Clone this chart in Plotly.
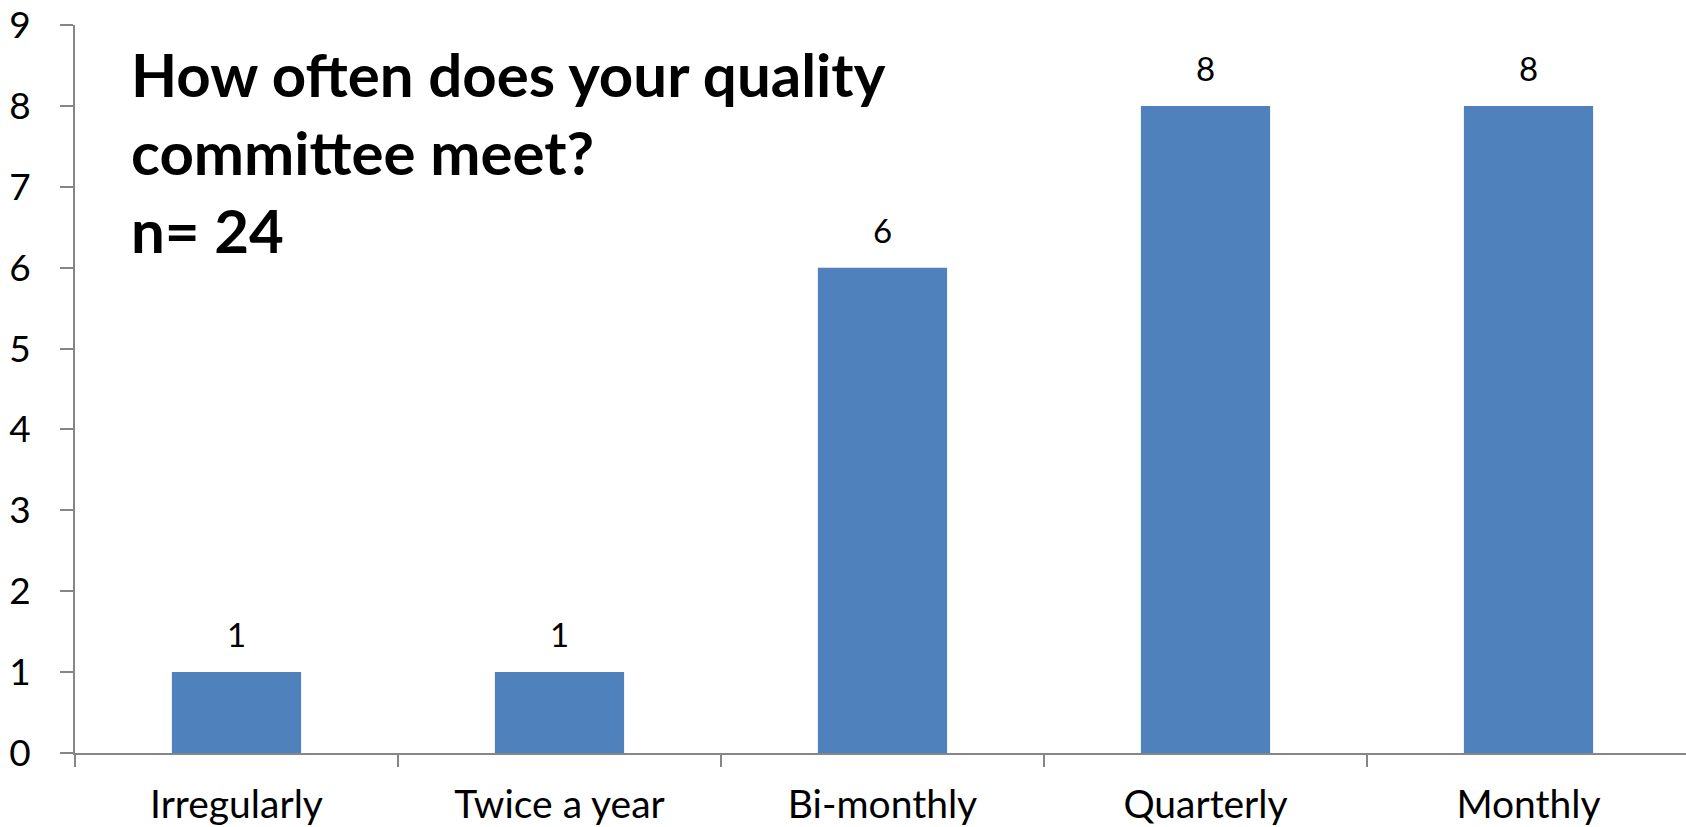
import plotly.graph_objects as go

categories = ["Irregularly", "Twice a year", "Bi-monthly", "Quarterly", "Monthly"]
counts = [1, 1, 6, 8, 8]
y_ticks = [0, 1, 2, 3, 4, 5, 6, 7, 8, 9]
title_lines = ["How often does your quality", "committee meet?", "n= 24"]

FONT = "Lato"
AXIS_COLOR = "#868686"
BAR_COLOR = "#4F81BD"

W, H = 1686, 827
L, R, T, B = 75, 0, 25, 74
pw, ph = W - L - R, H - T - B

fig = go.Figure()
fig.add_trace(go.Bar(
    x=categories,
    y=counts,
    width=0.4,
    marker=dict(color=BAR_COLOR, line=dict(width=0)),
    hoverinfo="skip",
))

annotations = []
for c, v in zip(categories, counts):
    annotations.append(dict(
        x=c, y=v, xref="x", yref="y", text=str(v), showarrow=False,
        yanchor="bottom", yshift=16,
        font=dict(family=FONT, size=33, color="#000000"),
    ))
annotations.append(dict(
    x=(129 - L) / pw, y=(H - B - 36) / ph, xref="paper", yref="paper",
    text="<br>".join(title_lines), showarrow=False, align="left",
    xanchor="left", yanchor="top",
    font=dict(family=FONT, size=60, color="#000000", weight="bold"),
))

fig.update_layout(
    width=W, height=H,
    margin=dict(l=L, r=R, t=T, b=B, pad=0),
    paper_bgcolor="white", plot_bgcolor="white",
    showlegend=False,
    annotations=annotations,
    bargap=0.6,
)
fig.update_xaxes(
    type="category",
    range=[-0.5, -0.5 + pw / 323.0],
    showline=True, linecolor=AXIS_COLOR, linewidth=2,
    ticks="outside", tickson="boundaries", ticklen=12, tickwidth=1.5, tickcolor=AXIS_COLOR,
    showgrid=False, zeroline=False,
    tickfont=dict(family=FONT, size=39, color="#000000"),
    ticklabelstandoff=16,
)
fig.update_yaxes(
    range=[0, 9],
    tickvals=y_ticks,
    ticktext=[str(t) for t in y_ticks],
    showline=True, linecolor=AXIS_COLOR, linewidth=2,
    ticks="outside", ticklen=13, tickwidth=1.5, tickcolor=AXIS_COLOR,
    showgrid=False, zeroline=False,
    tickfont=dict(family=FONT, size=37, color="#000000"),
    ticklabelstandoff=22,
)

fig.write_html("out.html")
